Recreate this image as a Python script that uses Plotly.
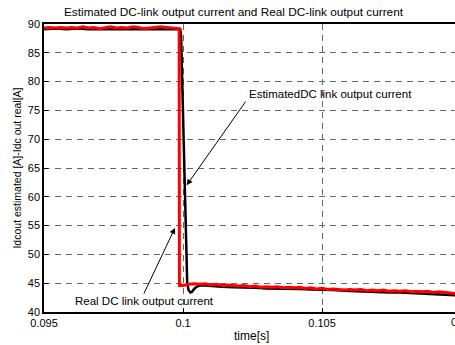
import plotly.graph_objects as go

# ---- data ----
real_t = [0.0950, 0.0952, 0.0954, 0.0956, 0.0958, 0.0960, 0.0962, 0.0964, 0.0966, 0.0968,
          0.0970, 0.0972, 0.0974, 0.0976, 0.0978, 0.0980, 0.0982, 0.0984, 0.0986, 0.0988,
          0.0990, 0.0992, 0.0994, 0.0996, 0.0998, 0.09986, 0.09987,
          0.1000, 0.1002, 0.1004, 0.1006, 0.1008, 0.1010, 0.1012, 0.1014, 0.1016, 0.1018,
          0.1020, 0.1022, 0.1024, 0.1026, 0.1028, 0.1030, 0.1032, 0.1034, 0.1036, 0.1038,
          0.1040, 0.1042, 0.1044, 0.1046, 0.1048, 0.1050, 0.1052, 0.1054, 0.1056, 0.1058,
          0.1060, 0.1062, 0.1064, 0.1066, 0.1068, 0.1070, 0.1072, 0.1074, 0.1076, 0.1078,
          0.1080, 0.1082, 0.1084, 0.1086, 0.1088, 0.1090, 0.1092, 0.1094, 0.1096, 0.1098, 0.1100]
real_i = [89.3, 89.4, 89.3, 89.4, 89.3, 89.4, 89.3, 89.5, 89.3, 89.4,
          89.2, 89.4, 89.5, 89.3, 89.4, 89.3, 89.5, 89.4, 89.2, 89.3,
          89.4, 89.5, 89.4, 89.3, 89.3, 89.2, 44.6,
          44.6, 44.8, 44.9, 44.8, 44.9, 44.7, 44.8, 44.6, 44.7, 44.6,
          44.5, 44.6, 44.4, 44.5, 44.3, 44.4, 44.3, 44.4, 44.2, 44.3,
          44.2, 44.3, 44.1, 44.2, 44.0, 44.1, 43.9, 44.0, 43.9, 43.8,
          43.9, 43.8, 43.9, 43.7, 43.8, 43.7, 43.8, 43.6, 43.7, 43.6,
          43.7, 43.5, 43.6, 43.5, 43.6, 43.4, 43.5, 43.4, 43.3, 43.2, 43.1]

est_t = [0.0950, 0.0954, 0.0958, 0.0962, 0.0966, 0.0970, 0.0974, 0.0978, 0.0982, 0.0986,
         0.0990, 0.0994, 0.0998, 0.09990, 0.09993, 0.09997, 0.10002, 0.10007, 0.10011,
         0.10015, 0.10020, 0.10026, 0.10032, 0.10040, 0.10050, 0.10060,
         0.1008, 0.1010, 0.1014, 0.1018, 0.1022, 0.1026, 0.1030, 0.1034, 0.1038, 0.1042,
         0.1046, 0.1050, 0.1054, 0.1058, 0.1062, 0.1066, 0.1070, 0.1074, 0.1078, 0.1082,
         0.1086, 0.1090, 0.1094, 0.1098, 0.1100]
est_i = [89.1, 89.2, 89.1, 89.2, 89.1, 89.1, 89.2, 89.1, 89.2, 89.1,
         89.1, 89.2, 89.1, 89.1, 88.0, 80.0, 68.0, 56.0, 49.0,
         45.0, 43.8, 43.4, 43.5, 44.0, 44.4, 44.6,
         44.6, 44.5, 44.4, 44.3, 44.3, 44.2, 44.1, 44.1, 44.0, 44.0,
         43.9, 43.9, 43.8, 43.7, 43.6, 43.6, 43.5, 43.4, 43.4, 43.3,
         43.2, 43.2, 43.1, 42.9, 42.8]

x_ticks = [0.095, 0.1, 0.105]
x_tick_text = ["0.095", "0.1", "0.105"]
y_ticks = [40, 45, 50, 55, 60, 65, 70, 75, 80, 85, 90]

FONT = "Liberation Sans, Arial, sans-serif"

fig = go.Figure()
fig.add_trace(go.Scatter(x=est_t, y=est_i, mode="lines",
                         line=dict(color="black", width=2.5), name="Estimated"))
fig.add_trace(go.Scatter(x=real_t, y=real_i, mode="lines",
                         line=dict(color="#ff0000", width=3), name="Real"))

# annotations
fig.add_annotation(x=0.10013, y=62.0, ax=0.10229, ay=76.8, axref="x", ayref="y",
                   xref="x", yref="y", text="", showarrow=True, arrowhead=2,
                   arrowsize=1.2, arrowwidth=1, arrowcolor="black")
fig.add_annotation(x=0.10229, y=77.85, xref="x", yref="y", text="EstimatedDC link output current",
                   showarrow=False, xanchor="left", yanchor="middle",
                   font=dict(family=FONT, size=11.5, color="black"))
fig.add_annotation(x=0.09971, y=54.6, ax=0.09857, ay=42.95, axref="x", ayref="y",
                   xref="x", yref="y", text="", showarrow=True, arrowhead=2,
                   arrowsize=1.2, arrowwidth=1, arrowcolor="black")
fig.add_annotation(x=0.0986, y=41.96, xref="x", yref="y", text="Real DC link output current",
                   showarrow=False, xanchor="center", yanchor="middle",
                   font=dict(family=FONT, size=11.5, color="black"))
# partially visible tick label beyond the right edge
fig.add_annotation(x=1.0146, y=0, xref="paper", yref="paper", yshift=-2,
                   text="0.11", showarrow=False, xanchor="center", yanchor="top",
                   font=dict(family=FONT, size=11, color="black"))
# x axis title
fig.add_annotation(x=0.506, y=0, xref="paper", yref="paper", yshift=-15,
                   text="time[s]", showarrow=False, xanchor="center", yanchor="top",
                   font=dict(family=FONT, size=12, color="black"))

fig.update_layout(
    width=455, height=345,
    margin=dict(l=44, r=0, t=24, b=33),
    paper_bgcolor="white", plot_bgcolor="white",
    showlegend=False,
    font=dict(family=FONT, size=11, color="black"),
    title=dict(text="Estimated DC-link output current and Real DC-link output current",
               x=233.5 / 455, xanchor="center", y=1 - 12 / 345, yanchor="middle",
               automargin=False,
               font=dict(family=FONT, size=11.8, color="black")),
    xaxis=dict(range=[0.095, 0.10978], tickvals=x_ticks, ticktext=x_tick_text,
               showline=True, linecolor="black", linewidth=1.5, mirror=True,
               ticks="inside", ticklen=4, tickcolor="black",
               showgrid=True, gridcolor="#666666", gridwidth=1, griddash="6px,5px",
               zeroline=False, automargin=False),
    yaxis=dict(range=[40, 90], tickvals=y_ticks,
               showline=True, linecolor="black", linewidth=1.5, mirror=False,
               ticks="inside", ticklen=4, tickcolor="black",
               showgrid=True, gridcolor="#666666", gridwidth=1, griddash="6px,5px",
               zeroline=False, automargin=False,
               title=dict(text="Idcout estimated [A]-Idc out real[A]", standoff=4,
                          font=dict(family=FONT, size=10.5))),
)

fig.write_html("out.html", config={"displayModeBar": False},
               post_script="document.body.style.margin='0';document.body.style.overflow='hidden';")
